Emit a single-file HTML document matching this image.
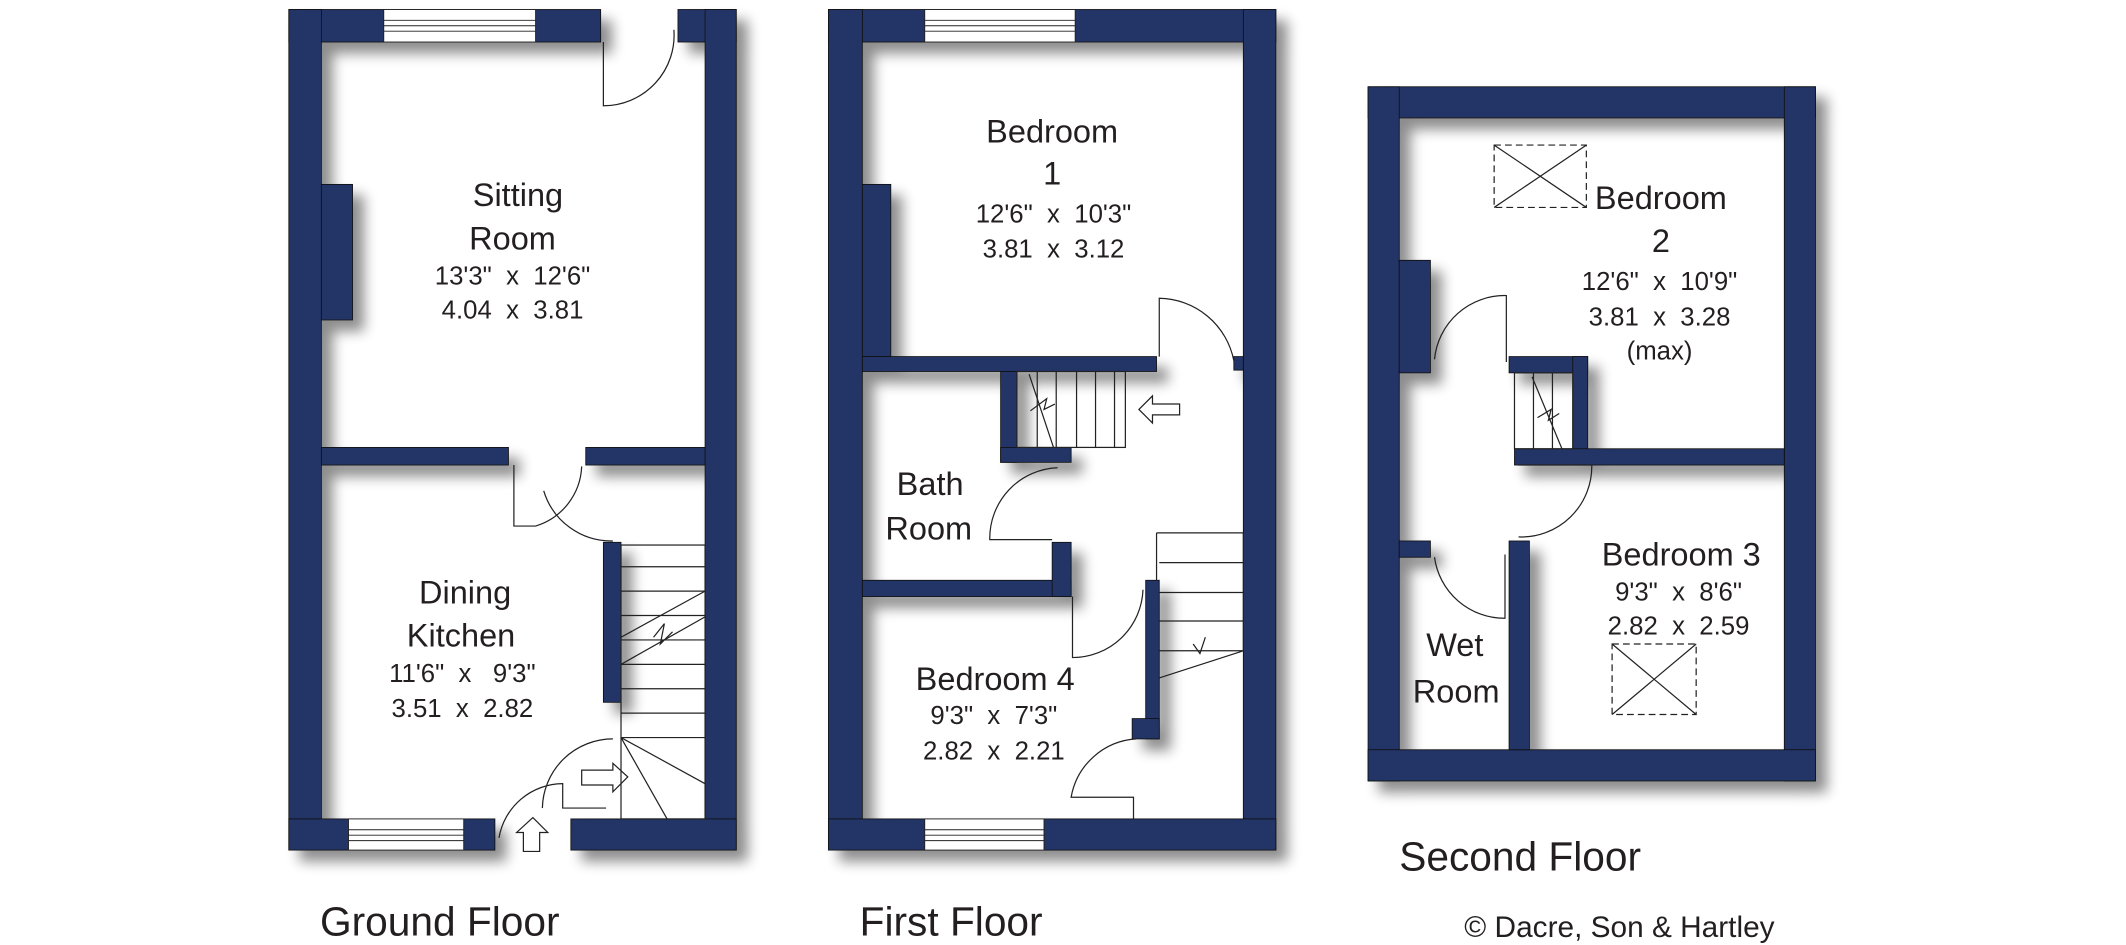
<!DOCTYPE html>
<html><head><meta charset="utf-8">
<style>
html,body{margin:0;padding:0;background:#fff;}
svg{display:block;}
text{font-family:"Liberation Sans",sans-serif;fill:#231f20;white-space:pre;}
</style></head><body>
<svg width="2126" height="945" viewBox="0 0 1568 697" xmlns="http://www.w3.org/2000/svg" xml:space="preserve">
<defs>
<filter id="sh" x="-10%" y="-10%" width="130%" height="130%">
<feGaussianBlur in="SourceAlpha" stdDeviation="5"/>
<feOffset dx="8" dy="8" result="b"/>
<feComponentTransfer><feFuncA type="linear" slope="0.45"/></feComponentTransfer>
<feMerge><feMergeNode/><feMergeNode in="SourceGraphic"/></feMerge>
</filter>
</defs>
<g fill="#243466" stroke="#111" stroke-width="0.6" filter="url(#sh)">
<!-- Ground -->
<rect x="213" y="7" width="230" height="24"/><rect x="500" y="7" width="43" height="24"/>
<rect x="213" y="7" width="24" height="620"/><rect x="520" y="7" width="23" height="620"/>
<rect x="213" y="604" width="152" height="23"/><rect x="421" y="604" width="122" height="23"/>
<rect x="237" y="136" width="23" height="100"/>
<rect x="237" y="330" width="138" height="13"/><rect x="432" y="330" width="88" height="13"/>
<rect x="445" y="400" width="13" height="118"/>
<!-- First -->
<rect x="611" y="7" width="330" height="24"/><rect x="611" y="7" width="25" height="620"/>
<rect x="917" y="7" width="24" height="620"/><rect x="611" y="604" width="330" height="23"/>
<rect x="636" y="136" width="21" height="127"/>
<rect x="636" y="263" width="217" height="11"/><rect x="910" y="263" width="7" height="10"/>
<rect x="738" y="274" width="12" height="67"/><rect x="738" y="330" width="52" height="11"/>
<rect x="636" y="428" width="154" height="12"/><rect x="776" y="400" width="14" height="40"/>
<rect x="845" y="428" width="10" height="117"/><rect x="835" y="530" width="20" height="15"/>
<!-- Second -->
<rect x="1009" y="64" width="330" height="23"/><rect x="1009" y="64" width="23" height="512"/>
<rect x="1316" y="64" width="23" height="512"/><rect x="1009" y="553" width="330" height="23"/>
<rect x="1032" y="192" width="23" height="83"/><rect x="1032" y="399" width="23" height="12"/>
<rect x="1113" y="263" width="58" height="12"/><rect x="1160" y="263" width="11" height="80"/>
<rect x="1117" y="331" width="199" height="12"/>
<rect x="1113" y="399" width="15" height="154"/>
</g>
<!-- windows -->
<g fill="#fff" stroke="#222" stroke-width="0.7">
<rect x="283" y="7" width="112" height="24"/><line x1="283" y1="15" x2="395" y2="15"/><line x1="283" y1="19" x2="395" y2="19"/><line x1="283" y1="23" x2="395" y2="23"/>
<rect x="257" y="604" width="85" height="23"/><line x1="257" y1="612" x2="342" y2="612"/><line x1="257" y1="616" x2="342" y2="616"/><line x1="257" y1="620" x2="342" y2="620"/>
<rect x="682" y="7" width="111" height="24"/><line x1="682" y1="15" x2="793" y2="15"/><line x1="682" y1="19" x2="793" y2="19"/><line x1="682" y1="23" x2="793" y2="23"/>
<rect x="682" y="604" width="88" height="23"/><line x1="682" y1="612" x2="770" y2="612"/><line x1="682" y1="616" x2="770" y2="616"/><line x1="682" y1="620" x2="770" y2="620"/>
</g>
<!-- doors, stairs -->
<g fill="none" stroke="#222" stroke-width="0.9">
<path d="M445 31 V78 A52 52 0 0 0 497 22"/>
<path d="M379 343 V388 H395 A48 48 0 0 0 429 344"/>
<path d="M401 362 A52 52 0 0 0 452 399"/>
<path d="M368 618 A48 48 0 0 1 415 578 V596 H447"/>
<path d="M400 596 A52 52 0 0 1 452 545"/>
<!-- ground stairs -->
<rect x="458" y="402" width="62" height="202"/>
<path d="M458 418 H520 M458 436 H520 M458 454 H520 M458 472 H520 M458 490 H520 M458 508 H520 M458 526 H520 M458 544 H520"/>
<path d="M458 544 L520 578 M458 544 L492 604 M458 470 L520 436 M458 490 L520 455"/>
<path d="M482 470 L490 460 L487 475 L496 466"/>
<!-- ground arrows -->
<path d="M386 628 V614 H381 L393 603 L404 614 H398 V628 Z"/>
<path d="M429 568 H452 V563 L463 573 L452 584 V579 H429 Z"/>
<!-- first floor -->
<path d="M855 263 V220 A57 57 0 0 1 910 266"/>
<rect x="750" y="274" width="80" height="56"/>
<path d="M765 274 V330 M779 274 V330 M794 274 V330 M808 274 V330 M822 274 V330"/>
<path d="M759 276 L777 330 M760 303 L772 294 L770 302 L778 298"/>
<path d="M840 302 L850 292 V298 H870 V306 H850 V312 Z"/>
<path d="M780 345 A52 52 0 0 0 730 398 H776"/>
<path d="M853 393 H917 V480 M853 393 V428 M855 415 H917 M855 437 H917 M855 458 H917 M855 480 H917 L855 500 M880 475 L885 482 L889 470"/>
<path d="M791 440 V485 A52 52 0 0 0 843 435"/>
<path d="M838 545 A52 52 0 0 0 790 588 H836 V604"/>
<!-- second floor -->
<path d="M1111 267 V218 A52 52 0 0 0 1058 265"/>
<rect x="1117" y="275" width="43" height="56"/>
<path d="M1131 275 V331 M1145 275 V331 M1130 278 L1152 331 M1134 308 L1144 302 L1142 310 L1150 305"/>
<path d="M1120 343 H1174 A52 52 0 0 1 1120 396"/>
<path d="M1110 409 V456 A52 52 0 0 1 1058 411"/>
</g>
<g fill="none" stroke="#222" stroke-width="0.9">
<rect x="1102" y="107" width="68" height="46" stroke-dasharray="5,3"/>
<path d="M1102 107 L1170 153 M1170 107 L1102 153"/>
<rect x="1189" y="475" width="62" height="52" stroke-dasharray="5,3"/>
<path d="M1189 475 L1251 527 M1251 475 L1189 527"/>
</g>
<!-- labels -->
<g text-anchor="middle" font-size="24">
<text x="382" y="152">Sitting</text><text x="378" y="184">Room</text>
<text x="343" y="445">Dining</text><text x="340" y="477">Kitchen</text>
<text x="776" y="105">Bedroom</text><text x="776" y="136">1</text>
<text x="686" y="365">Bath</text><text x="685" y="398">Room</text>
<text x="734" y="509">Bedroom 4</text>
<text x="1225" y="154">Bedroom</text><text x="1225" y="186">2</text>
<text x="1240" y="417">Bedroom 3</text>
<text x="1073" y="484">Wet</text><text x="1074" y="518">Room</text>
</g>
<g text-anchor="middle" font-size="19">
<text x="378" y="210">13'3"  x  12'6"</text><text x="378" y="235">4.04  x  3.81</text>
<text x="341" y="503">11'6"  x   9'3"</text><text x="341" y="529">3.51  x  2.82</text>
<text x="777" y="164">12'6"  x  10'3"</text><text x="777" y="190">3.81  x  3.12</text>
<text x="733" y="534">9'3"  x  7'3"</text><text x="733" y="560">2.82  x  2.21</text>
<text x="1224" y="214">12'6"  x  10'9"</text><text x="1224" y="240">3.81  x  3.28</text><text x="1224" y="265">(max)</text>
<text x="1238" y="443">9'3"  x  8'6"</text><text x="1238" y="468">2.82  x  2.59</text>
</g>
<g font-size="30">
<text x="236" y="690">Ground Floor</text>
<text x="634" y="690">First Floor</text>
<text x="1032" y="642">Second Floor</text>
</g>
<text x="1080" y="691" font-size="22">© Dacre, Son &amp; Hartley</text>
</svg>
</body></html>
